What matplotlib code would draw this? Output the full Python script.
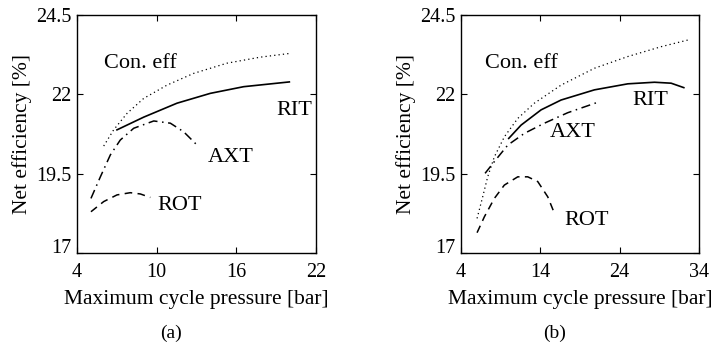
import matplotlib.pyplot as plt

plt.rcParams['font.family'] = ['Liberation Serif', 'DejaVu Serif']

# (a) low pressure range
a_con_x = [6.01, 6.76, 7.77, 9.02, 10.78, 12.79, 15.29, 17.8, 20.06]
a_con_y = [20.37, 20.88, 21.40, 21.87, 22.29, 22.66, 22.98, 23.17, 23.29]
a_rit_x = [7.01, 9.02, 11.53, 14.04, 16.55, 19.99]
a_rit_y = [20.88, 21.28, 21.72, 22.03, 22.24, 22.39]
a_axt_x = [5.05, 5.76, 6.51, 7.26, 8.27, 9.78, 11.03, 12.03, 13.04]
a_axt_y = [18.72, 19.40, 20.09, 20.56, 20.93, 21.16, 21.09, 20.82, 20.40]
a_rot_x = [5.05, 6.01, 7.01, 8.01, 8.77, 9.52]
a_rot_y = [18.30, 18.62, 18.83, 18.90, 18.86, 18.75]

# (b) high pressure range
b_con_x = [6.02, 6.73, 7.36, 8.2, 9.46, 11.15, 13.24, 16.61, 20.81, 25.02, 29.22, 32.59]
b_con_y = [18.09, 18.77, 19.40, 20.03, 20.66, 21.24, 21.72, 22.29, 22.82, 23.19, 23.50, 23.71]
b_rit_x = [10.01, 11.57, 14.09, 16.61, 20.81, 25.02, 28.38, 30.48, 32.08]
b_rit_y = [20.61, 21.03, 21.51, 21.82, 22.14, 22.33, 22.38, 22.35, 22.21]
b_axt_x = [7.03, 8.2, 9.89, 11.99, 14.51, 17.45, 21.24]
b_axt_y = [19.51, 19.88, 20.40, 20.77, 21.09, 21.42, 21.75]
b_rot_x = [6.02, 6.94, 8.2, 9.46, 11.15, 12.41, 13.67, 14.93, 15.77]
b_rot_y = [17.64, 18.14, 18.72, 19.14, 19.40, 19.40, 19.25, 18.77, 18.25]

yticks = [17, 19.5, 22, 24.5]
ytick_labels = ['17', '19.5', '22', '24.5']
a_xticks = [4, 10, 16, 22]
b_xticks = [4, 14, 24, 34]


def panel(ax, curves, xticks, labels):
    styles = [(0, (1, 2.5)), '-', (0, (6, 3, 1, 3)), (0, (5, 3.5))]
    widths = [0.9, 1.2, 1.1, 1.1]
    for (x, y), ls, lw in zip(curves, styles, widths):
        ax.plot(x, y, color='black', linestyle=ls, linewidth=lw)
    for txt, (tx, ty) in labels.items():
        ax.text(tx, ty, txt, fontsize=16, va='center', ha='left')
    ax.set_xlim(xticks[0], xticks[-1])
    ax.set_ylim(17, 24.5)
    ax.set_xticks(xticks)
    ax.set_yticks(yticks)
    ax.set_yticklabels(ytick_labels)
    ax.tick_params(direction='in', length=4, labelsize=14.5, top=True, right=True)
    ax.tick_params(axis='x', pad=7)
    ax.tick_params(axis='y', pad=4)
    # lowest y label sits on its tick so it clears the first x label
    ax.get_yticklabels()[0].set_va('baseline')
    ax.set_xlabel('Maximum cycle pressure [bar]', fontsize=15.5, labelpad=6)
    ax.set_ylabel('Net efficiency [%]', fontsize=15.5, labelpad=3)
    for s in ax.spines.values():
        s.set_linewidth(1.0)


fig = plt.figure(figsize=(7.15, 3.47), dpi=100)
ax1 = fig.add_axes([0.1077, 0.2709, 0.3343, 0.686])
ax2 = fig.add_axes([0.6448, 0.2709, 0.3329, 0.686])

panel(ax1,
      [(a_con_x, a_con_y), (a_rit_x, a_rit_y), (a_axt_x, a_axt_y), (a_rot_x, a_rot_y)],
      a_xticks,
      {'Con. eff': (6.06, 22.98), 'RIT': (19.0, 21.48),
       'AXT': (13.84, 20.01), 'ROT': (10.02, 18.51)})
panel(ax2,
      [(b_con_x, b_con_y), (b_rit_x, b_rit_y), (b_axt_x, b_axt_y), (b_rot_x, b_rot_y)],
      b_xticks,
      {'Con. eff': (7.03, 22.98), 'RIT': (25.65, 21.80),
       'AXT': (15.14, 20.79), 'ROT': (17.03, 18.02)})

fig.text(171 / 715, 1 - 333 / 347, '(a)', fontsize=14, ha='center', va='center')
fig.text(555 / 715, 1 - 333 / 347, '(b)', fontsize=14, ha='center', va='center')

fig.savefig('out.png', dpi=100)
